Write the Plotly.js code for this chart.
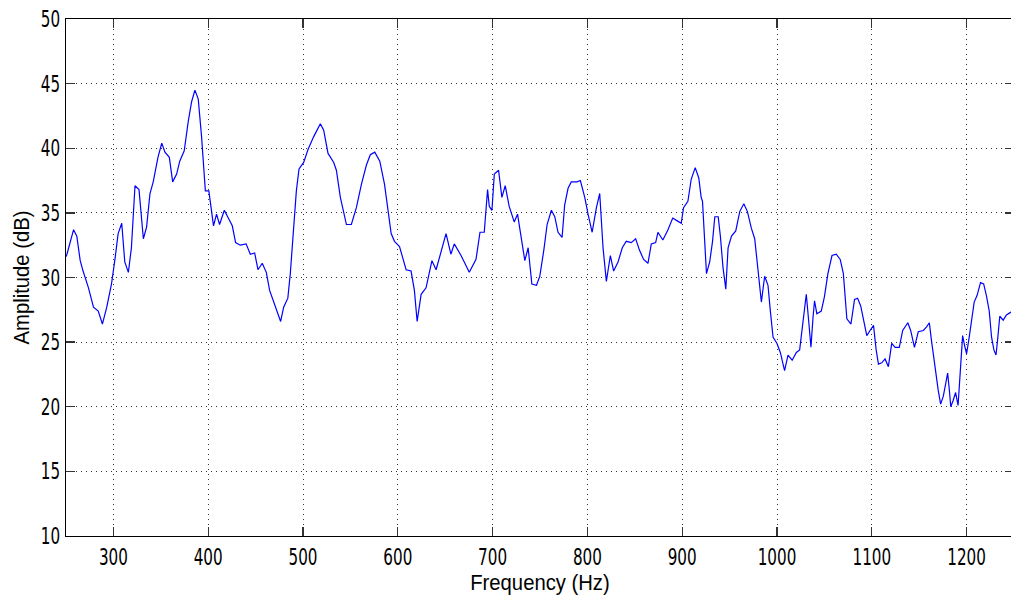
<!DOCTYPE html>
<html>
<head>
<meta charset="utf-8">
<script src="https://cdn.plot.ly/plotly-3.0.1.min.js"></script>
<style>
  html, body { margin: 0; padding: 0; background: #fff; overflow: hidden; }
  #chart { width: 1014px; height: 597px; }
</style>
</head>
<body>
<div id="chart"></div>
<script>
// Measured spectrum: frequency (Hz) and amplitude (dB)
const frequency = [
  250, 251, 258, 261.4, 265, 268, 273.7, 279, 284, 288.4, 293, 298, 301.8, 305, 308.8, 312, 315.8, 319,
  322.8, 327, 331.6, 335, 338.6, 342, 347, 351, 354.4, 359, 362.5, 366.7, 370, 374.7, 379, 382.5, 386,
  389.5, 393, 397, 400.7, 403.5, 405.6, 408.8, 412, 417, 425.4, 428.9, 433.8, 440, 444.4, 449, 452.5,
  457, 461.3, 464.8, 468.3, 472.5, 476.4, 479.6, 484, 486.6, 489.4, 493, 495.8, 500.7, 505.3, 511.3,
  518.3, 521.8, 526.4, 532.4, 535.2, 539.4, 545.8, 551, 556.3, 561.6, 566.9, 571, 575.7, 581, 586,
  589.5, 593, 596.5, 601.8, 605.3, 608.8, 614, 617.5, 620.4, 624.6, 629.8, 636, 640.4, 645.6, 650.9,
  656, 659.6, 666.7, 675.4, 682.5, 686.7, 691.2, 694.7, 696.5, 699.3, 701.8, 706.3, 709.8, 713.3,
  717.5, 722.8, 726.3, 729.8, 734, 737.5, 741.4, 746.3, 749.8, 754, 757.5, 762, 765.6, 769, 773.3,
  776, 779.6, 783, 789, 792.6, 797.2, 800.7, 805, 809.5, 813, 816.5, 820, 824.2, 827.7, 832.3, 836.8,
  841, 846.3, 850.9, 855, 859.3, 863.9, 867.4, 872, 874.4, 879.6, 885, 890, 894.4, 899, 901.4, 906,
  909.5, 913.7, 917.5, 920, 921.4, 923.5, 925.6, 929, 932, 934.4, 938, 940.4, 943, 946, 948.4, 952,
  956.5, 960.7, 965, 968.8, 973, 976.5, 980, 983.5, 987, 990.5, 993, 995.8, 1000, 1003.5, 1008,
  1011.6, 1016, 1020.4, 1023.9, 1027.4, 1030.9, 1033.7, 1035.8, 1038, 1039.6, 1042, 1046.7, 1050,
  1053.7, 1058, 1062.5, 1066.7, 1070, 1073.7, 1078, 1081.8, 1085, 1088.3, 1091.4, 1094.7, 1098.2,
  1101.8, 1104.6, 1107, 1110.5, 1114, 1117.5, 1121, 1124.6, 1129, 1132.6, 1135, 1138, 1141, 1145,
  1149, 1154.4, 1158, 1160.7, 1163, 1166.7, 1170, 1172.6, 1175.4, 1178, 1180, 1181.8, 1183.3, 1185.9,
  1188.4, 1191, 1193.7, 1195.8, 1198, 1200, 1202.8, 1205.3, 1208, 1211, 1214.7, 1218, 1220.9, 1223.9,
  1226.3, 1228.8, 1231, 1232.6, 1235, 1238.6, 1242, 1246.3, 1250
];
const amplitude = [
  31.6, 31.8, 33.7, 33.2, 31.3, 30.5, 29.2, 27.7, 27.4, 26.4, 27.7, 29.5, 31.5, 33.4, 34.2, 31.2, 30.4, 32.3,
  37.1, 36.8, 33.0, 33.9, 36.5, 37.4, 39.3, 40.4, 39.7, 39.3, 37.4, 38.0, 39.0, 39.8, 42.1, 43.6, 44.5,
  43.8, 40.9, 36.7, 36.7, 34.9, 34.0, 34.9, 34.1, 35.2, 34.0, 32.7, 32.5, 32.6, 31.8, 31.9, 30.6,
  31.1, 30.4, 29.0, 28.3, 27.3, 26.6, 27.7, 28.4, 30.3, 33.4, 36.7, 38.4, 38.9, 39.9, 40.9,
  41.9, 41.4, 39.6, 38.9, 38.3, 36.2, 34.1, 34.1, 35.4, 37.2, 38.7, 39.5, 39.7, 39.0, 37.2,
  35.4, 33.4, 32.8, 32.4, 31.5, 30.6, 30.5, 29.0, 26.6, 28.7, 29.2, 31.3, 30.6, 32.1, 33.4,
  31.8, 32.6, 31.7, 30.4, 31.4, 33.5, 33.5, 36.8, 35.5, 35.2, 38.0, 38.3, 36.2, 37.1,
  35.5, 34.3, 34.9, 33.1, 31.3, 32.3, 29.5, 29.4, 30.1, 32.1, 34.1, 35.2, 34.7, 33.5, 33.1,
  35.6, 36.9, 37.4, 37.4, 37.5, 36.2, 34.9, 33.5, 35.4, 36.5, 32.3, 29.7, 31.7, 30.5, 31.2, 32.3,
  32.8, 32.7, 33.0, 32.1, 31.4, 31.1, 32.6, 32.7, 33.5, 32.9, 33.7, 34.6, 34.4, 34.2, 35.4, 35.9,
  37.6, 38.5, 37.7, 36.2, 35.9, 33.0, 30.3, 31.2, 32.8, 34.7, 34.7, 33.1, 30.8, 29.1, 32.3, 33.2,
  33.6, 35.1, 35.7, 35.1, 33.8, 33.0, 30.3, 28.1, 30.1, 29.4, 27.4, 25.4, 24.9, 24.2, 22.8,
  24.0, 23.6, 24.2, 24.4, 26.4, 28.7, 26.4, 24.6, 26.9, 28.2, 27.2, 27.4, 28.5,
  30.3, 31.7, 31.8, 31.4, 30.3, 26.8, 26.4, 28.3, 28.4, 27.8, 26.6, 25.5, 25.9,
  26.3, 24.4, 23.3, 23.4, 23.7, 23.1, 24.9, 24.6, 24.6, 25.9, 26.2, 26.5, 25.9, 24.6,
  25.8, 25.9, 26.2, 26.5, 25.1, 23.0, 21.3, 20.2, 20.8, 21.8, 22.6, 21.3, 20.0, 20.5,
  21.1, 20.1, 22.9, 25.5, 24.7, 24.1, 25.4, 26.7, 28.1, 28.6, 29.6, 29.5, 28.6, 27.4,
  25.4, 24.4, 24.0, 25.1, 27.0, 26.7, 27.1, 27.3, 27.4
];
const xTicks = [300, 400, 500, 600, 700, 800, 900, 1000, 1100, 1200];
const yTicks = [10, 15, 20, 25, 30, 35, 40, 45, 50];

const tickFont = { family: '"DejaVu Sans", sans-serif', size: 23, color: '#000' };
const titleFont = { family: '"Liberation Sans", Arial, sans-serif', size: 22, color: '#000' };

const trace = {
  x: frequency,
  y: amplitude,
  type: 'scatter',
  mode: 'lines',
  line: { color: '#0000ff', width: 1.2 },
  hoverinfo: 'skip'
};

const axisCommon = {
  showline: true,
  linecolor: '#000',
  linewidth: 1.3,
  mirror: 'ticks',
  ticks: 'inside',
  ticklen: 9,
  tickwidth: 1.3,
  tickcolor: '#333',
  showgrid: true,
  gridcolor: '#333',
  gridwidth: 1,
  griddash: '1px,4px',
  zeroline: false,
  tickfont: tickFont
};

const layout = {
  width: 1014,
  height: 597,
  margin: { l: 66, r: 0, t: 19, b: 61 },
  paper_bgcolor: '#fff',
  plot_bgcolor: '#fff',
  showlegend: false,
  xaxis: Object.assign({}, axisCommon, {
    range: [250, 1250],
    tickvals: xTicks,
    ticktext: xTicks.map(String),
    title: { text: 'Frequency (Hz)', font: titleFont, standoff: 2 }
  }),
  yaxis: Object.assign({}, axisCommon, {
    range: [10, 50],
    tickvals: yTicks,
    ticktext: yTicks.map(String),
    title: { text: 'Amplitude (dB)', font: titleFont, standoff: 6 }
  })
};

// Narrow the glyphs horizontally (condensed numeric style)
function condense(selector, factor) {
  document.querySelectorAll(selector).forEach(function (t) {
    const w = t.getComputedTextLength();
    t.setAttribute('lengthAdjust', 'spacingAndGlyphs');
    t.setAttribute('textLength', (w * factor).toFixed(2));
  });
}

// The condensed tick labels leave room, so bring the y title closer to them
function nudgeYTitle(dx) {
  const t = document.querySelector('#chart .ytitle');
  if (!t) return;
  const x = parseFloat(t.getAttribute('x')) + dx;
  const y = parseFloat(t.getAttribute('y'));
  t.setAttribute('x', x);
  t.setAttribute('transform', 'rotate(-90,' + x + ',' + y + ')');
}

Plotly.newPlot('chart', [trace], layout, { staticPlot: true, displayModeBar: false })
  .then(function () {
    condense('#chart .xtick text, #chart .ytick text', 0.66);
    condense('#chart .xtitle, #chart .ytitle', 0.92);
    nudgeYTitle(9);
  });
</script>
</body>
</html>
